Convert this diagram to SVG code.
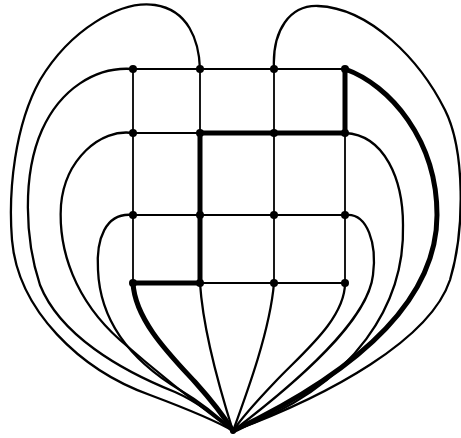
<svg xmlns="http://www.w3.org/2000/svg" width="461" height="438" viewBox="0 0 461 438">
<style>
.g{fill:none;stroke:#000;stroke-width:1.8;stroke-linecap:round}
.e{fill:none;stroke:#000;stroke-width:2.3;stroke-linecap:round;stroke-linejoin:round}
.t{fill:none;stroke:#000;stroke-width:5;stroke-linecap:round;stroke-linejoin:round}
.n{fill:#000}
</style>
<rect width="461" height="438" fill="#fff"/>
<g id="connectors">
<path class="g" d="M133,69 H345 M133,133 H345 M133,215 H345 M133,283 H345"/>
<path class="g" d="M133,69 V283 M200,69 V283 M274,69 V283 M345,69 V283"/>
<path class="e" d="M200,69 C199,40 188,10 155,5 C120,0 70,30 40,80 C15,125 8,190 12,240 C18,310 80,370 150,395 C190,410 215,420 233,431"/>
<path class="e" d="M133,69 C95,66 60,90 42,130 C22,175 25,240 40,285 C60,335 120,370 175,392 C200,403 220,420 233,431"/>
<path class="e" d="M133,133 C100,128 65,160 61,205 C58,250 75,300 120,340 C160,375 205,410 233,431"/>
<path class="e" d="M133,215 C105,212 96,240 98,270 C100,320 130,360 180,390 C205,405 222,420 233,431"/>
<path class="e" d="M200,283 C203,330 220,390 233,431"/>
<path class="e" d="M274,283 C270,330 248,390 233,431"/>
<path class="e" d="M345,283 C345,320 300,355 275,382 C255,403 240,420 233,431"/>
<path class="e" d="M345,215 C368,212 377,245 373,275 C368,320 300,380 233,431"/>
<path class="e" d="M345,133 C385,135 403,180 403,225 C405,300 360,385 233,431"/>
<path class="e" d="M274,69 C272,30 290,5 318,6 C370,8 420,60 445,110 C465,150 465,230 450,280 C430,340 330,395 233,431"/>
<path class="t" d="M233,431 C225,418 213,402 195,382 C170,355 135,320 133,283 H200 V133 H345 V69 C390,85 437,140 437,215 C437,310 340,380 233,431 Z"/>
</g>
<g id="n11"><circle class="n" cx="133" cy="69" r="4"/></g>
<g id="n12"><circle class="n" cx="200" cy="69" r="4"/></g>
<g id="n13"><circle class="n" cx="274" cy="69" r="4"/></g>
<g id="n14"><circle class="n" cx="345" cy="69" r="4"/></g>
<g id="n21"><circle class="n" cx="133" cy="133" r="4"/></g>
<g id="n22"><circle class="n" cx="200" cy="133" r="4"/></g>
<g id="n23"><circle class="n" cx="274" cy="133" r="4"/></g>
<g id="n24"><circle class="n" cx="345" cy="133" r="4"/></g>
<g id="n31"><circle class="n" cx="133" cy="215" r="4"/></g>
<g id="n32"><circle class="n" cx="200" cy="215" r="4"/></g>
<g id="n33"><circle class="n" cx="274" cy="215" r="4"/></g>
<g id="n34"><circle class="n" cx="345" cy="215" r="4"/></g>
<g id="n41"><circle class="n" cx="133" cy="283" r="4"/></g>
<g id="n42"><circle class="n" cx="200" cy="283" r="4"/></g>
<g id="n43"><circle class="n" cx="274" cy="283" r="4"/></g>
<g id="n44"><circle class="n" cx="345" cy="283" r="4"/></g>
<g id="apex"><circle class="n" cx="233" cy="431" r="3"/></g>
</svg>
